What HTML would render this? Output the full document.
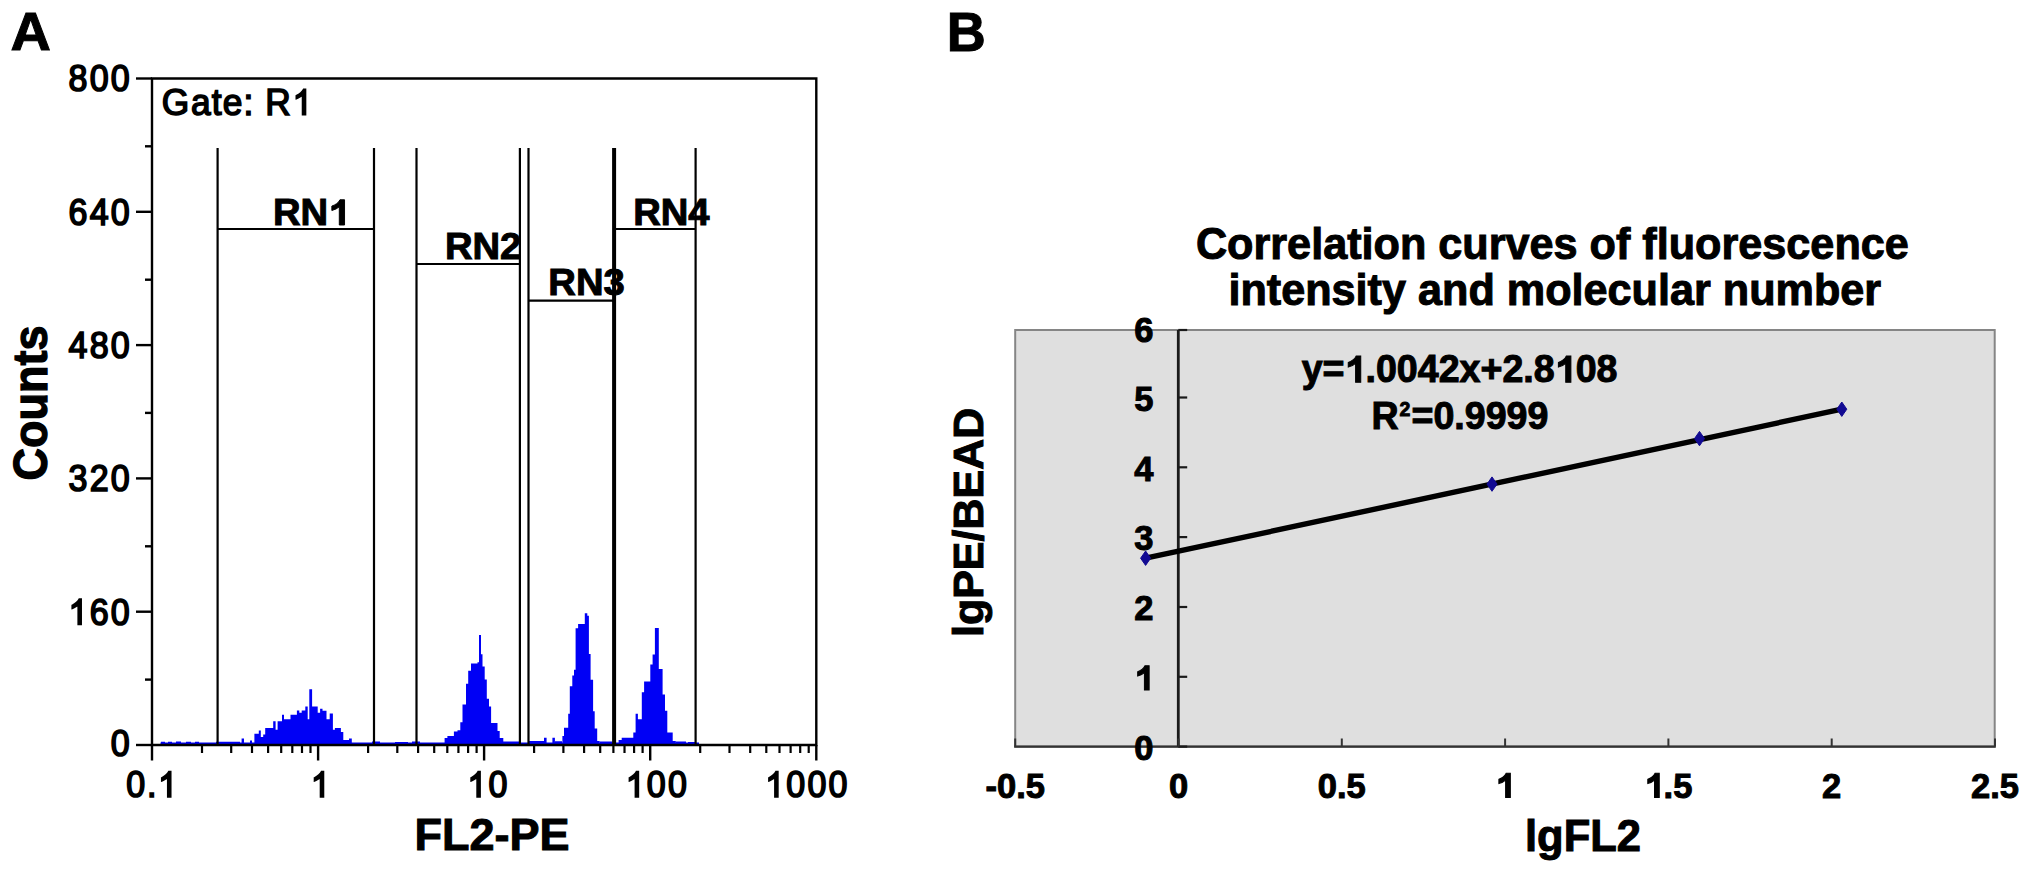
<!DOCTYPE html>
<html><head><meta charset="utf-8"><style>
html,body{margin:0;padding:0;background:#fff;}
svg{display:block;}
text{font-family:"Liberation Sans", sans-serif;font-kerning:none;}
</style></head><body>
<svg width="2031" height="874" viewBox="0 0 2031 874">
<rect width="2031" height="874" fill="#fff"/>
<path d="M241.6 745.0V738.5H244.0V745.0ZM244.0 745.0V743.0H250.0V745.0ZM250.0 745.0V740.5H252.0V745.0ZM252.0 745.0V743.0H254.4V745.0ZM254.4 745.0V733.7H258.8V745.0ZM258.8 745.0V730.5H260.8V745.0ZM260.8 745.0V737.0H263.2V745.0ZM263.2 745.0V734.5H265.2V745.0ZM265.2 745.0V728.0H273.2V745.0ZM273.2 745.0V721.3H275.6V745.0ZM275.6 745.0V729.7H277.6V745.0ZM277.6 745.0V721.3H282.0V745.0ZM282.0 745.0V714.8H284.0V745.0ZM284.0 745.0V719.3H290.5V745.0ZM290.5 745.0V714.8H296.9V745.0ZM296.9 745.0V710.4H299.3V745.0ZM299.3 745.0V712.8H301.7V745.0ZM301.7 745.0V710.4H305.3V745.0ZM305.3 745.0V706.4H307.7V745.0ZM307.7 745.0V719.3H309.3V745.0ZM309.3 745.0V689.2H312.1V745.0ZM312.1 745.0V706.4H317.7V745.0ZM317.7 745.0V712.8H320.1V745.0ZM320.1 745.0V708.8H322.5V745.0ZM322.5 745.0V710.8H326.5V745.0ZM326.5 745.0V719.3H329.7V745.0ZM329.7 745.0V713.6H332.9V745.0ZM332.9 745.0V729.7H334.9V745.0ZM334.9 745.0V728.0H340.9V745.0ZM340.9 745.0V732.0H343.3V745.0ZM343.3 745.0V740.0H349.0V745.0ZM349.0 745.0V738.5H351.8V745.0ZM351.8 745.0V742.5H356.2V745.0ZM444.6 745.0V738.0H447.4V745.0ZM447.4 745.0V735.9H453.9V745.0ZM453.9 745.0V731.6H457.5V745.0ZM457.5 745.0V730.2H460.3V745.0ZM460.3 745.0V722.3H462.5V745.0ZM462.5 745.0V704.4H466.0V745.0ZM466.0 745.0V683.7H468.2V745.0ZM468.2 745.0V670.8H471.0V745.0ZM471.0 745.0V663.6H477.5V745.0ZM477.5 745.0V662.2H479.0V745.0ZM479.0 745.0V635.0H481.0V745.0ZM481.0 745.0V654.3H482.5V745.0ZM482.5 745.0V666.5H484.7V745.0ZM484.7 745.0V679.4H486.8V745.0ZM486.8 745.0V698.7H489.0V745.0ZM489.0 745.0V706.6H491.1V745.0ZM491.1 745.0V723.0H497.5V745.0ZM497.5 745.0V730.9H499.7V745.0ZM499.7 745.0V738.0H503.3V745.0ZM503.3 745.0V741.6H507.6V745.0ZM544.0 745.0V737.8H546.6V745.0ZM552.4 745.0V737.8H554.9V745.0ZM562.4 745.0V736.0H564.0V745.0ZM564.0 745.0V727.8H568.2V745.0ZM568.2 745.0V713.7H569.8V745.0ZM569.8 745.0V686.3H572.3V745.0ZM572.3 745.0V675.5H574.0V745.0ZM574.0 745.0V669.7H575.6V745.0ZM575.6 745.0V628.2H578.1V745.0ZM578.1 745.0V624.1H584.8V745.0ZM584.8 745.0V613.3H587.3V745.0ZM587.3 745.0V615.8H588.9V745.0ZM588.9 745.0V654.0H590.6V745.0ZM590.6 745.0V679.7H593.1V745.0ZM593.1 745.0V711.2H594.7V745.0ZM594.7 745.0V728.6H597.2V745.0ZM597.2 745.0V741.0H599.7V745.0ZM618.6 745.0V740.0H621.7V745.0ZM621.7 745.0V737.8H633.3V745.0ZM633.3 745.0V732.4H635.6V745.0ZM635.6 745.0V713.8H637.9V745.0ZM637.9 745.0V719.2H641.8V745.0ZM641.8 745.0V692.2H644.1V745.0ZM644.1 745.0V681.4H650.3V745.0ZM650.3 745.0V664.4H652.6V745.0ZM652.6 745.0V654.4H654.9V745.0ZM654.9 745.0V628.1H658.8V745.0ZM658.8 745.0V669.0H662.6V745.0ZM662.6 745.0V694.5H665.0V745.0ZM665.0 745.0V710.8H667.3V745.0ZM667.3 745.0V732.4H672.7V745.0ZM672.7 745.0V740.9H675.8V745.0ZM160.5 745.5V742.4H699V745.5ZM161 745.5V741.8H165V745.5ZM168 745.5V741.8H172V745.5ZM176 745.5V741.6H181V745.5ZM186 745.5V741.8H191V745.5ZM195 745.5V741.8H199V745.5ZM216 745.5V741.8H240V745.5ZM372 745.5V741.6H380V745.5ZM395 745.5V741.9H408V745.5ZM412 745.5V741.6H420V745.5ZM507 745.5V741.6H520V745.5ZM528 745.5V741.0H545V745.5ZM555 745.5V741.2H562V745.5ZM600 745.5V741.6H612V745.5ZM676 745.5V741.6H686V745.5ZM688 745.5V742.0H696V745.5Z" fill="#0000f5"/>
<path d="M152.0 78.5H816.3V745.0H152.0Z" fill="none" stroke="#000" stroke-width="2.4"/>
<line x1="136" y1="745.0" x2="152.0" y2="745.0" stroke="#000" stroke-width="2.4"/>
<line x1="145" y1="679.6" x2="152.0" y2="679.6" stroke="#000" stroke-width="2.4"/>
<text transform="translate(120.23 756.20) scale(0.895 0.97)" text-anchor="middle" font-size="38" font-weight="normal" stroke="#000" stroke-width="1.79" fill="#000">0</text>
<line x1="136" y1="611.7" x2="152.0" y2="611.7" stroke="#000" stroke-width="2.4"/>
<line x1="145" y1="546.3" x2="152.0" y2="546.3" stroke="#000" stroke-width="2.4"/>
<path transform="translate(77.97 624.50) scale(0.01661 -0.01730) translate(-569.5 0)" d="M763 0H583V1147Q518 1085 412 1023Q306 961 222 930V1104Q373 1175 486 1276Q599 1377 646 1472H763Z" fill="#000" stroke="#000" stroke-width="96.3"/>
<text transform="translate(99.10 624.50) scale(0.895 0.97)" text-anchor="middle" font-size="38" font-weight="normal" stroke="#000" stroke-width="1.79" fill="#000">6</text>
<text transform="translate(120.23 624.50) scale(0.895 0.97)" text-anchor="middle" font-size="38" font-weight="normal" stroke="#000" stroke-width="1.79" fill="#000">0</text>
<line x1="136" y1="478.4" x2="152.0" y2="478.4" stroke="#000" stroke-width="2.4"/>
<line x1="145" y1="412.9" x2="152.0" y2="412.9" stroke="#000" stroke-width="2.4"/>
<text transform="translate(77.97 491.20) scale(0.895 0.97)" text-anchor="middle" font-size="38" font-weight="normal" stroke="#000" stroke-width="1.79" fill="#000">3</text>
<text transform="translate(99.10 491.20) scale(0.895 0.97)" text-anchor="middle" font-size="38" font-weight="normal" stroke="#000" stroke-width="1.79" fill="#000">2</text>
<text transform="translate(120.23 491.20) scale(0.895 0.97)" text-anchor="middle" font-size="38" font-weight="normal" stroke="#000" stroke-width="1.79" fill="#000">0</text>
<line x1="136" y1="345.1" x2="152.0" y2="345.1" stroke="#000" stroke-width="2.4"/>
<line x1="145" y1="279.7" x2="152.0" y2="279.7" stroke="#000" stroke-width="2.4"/>
<text transform="translate(77.97 357.90) scale(0.895 0.97)" text-anchor="middle" font-size="38" font-weight="normal" stroke="#000" stroke-width="1.79" fill="#000">4</text>
<text transform="translate(99.10 357.90) scale(0.895 0.97)" text-anchor="middle" font-size="38" font-weight="normal" stroke="#000" stroke-width="1.79" fill="#000">8</text>
<text transform="translate(120.23 357.90) scale(0.895 0.97)" text-anchor="middle" font-size="38" font-weight="normal" stroke="#000" stroke-width="1.79" fill="#000">0</text>
<line x1="136" y1="211.8" x2="152.0" y2="211.8" stroke="#000" stroke-width="2.4"/>
<line x1="145" y1="146.3" x2="152.0" y2="146.3" stroke="#000" stroke-width="2.4"/>
<text transform="translate(77.97 224.60) scale(0.895 0.97)" text-anchor="middle" font-size="38" font-weight="normal" stroke="#000" stroke-width="1.79" fill="#000">6</text>
<text transform="translate(99.10 224.60) scale(0.895 0.97)" text-anchor="middle" font-size="38" font-weight="normal" stroke="#000" stroke-width="1.79" fill="#000">4</text>
<text transform="translate(120.23 224.60) scale(0.895 0.97)" text-anchor="middle" font-size="38" font-weight="normal" stroke="#000" stroke-width="1.79" fill="#000">0</text>
<line x1="136" y1="78.5" x2="152.0" y2="78.5" stroke="#000" stroke-width="2.4"/>
<text transform="translate(77.97 91.30) scale(0.895 0.97)" text-anchor="middle" font-size="38" font-weight="normal" stroke="#000" stroke-width="1.79" fill="#000">8</text>
<text transform="translate(99.10 91.30) scale(0.895 0.97)" text-anchor="middle" font-size="38" font-weight="normal" stroke="#000" stroke-width="1.79" fill="#000">0</text>
<text transform="translate(120.23 91.30) scale(0.895 0.97)" text-anchor="middle" font-size="38" font-weight="normal" stroke="#000" stroke-width="1.79" fill="#000">0</text>
<line x1="152.0" y1="745.0" x2="152.0" y2="760.5" stroke="#000" stroke-width="2.4"/>
<text transform="translate(135.83 797.00) scale(0.895 0.97)" text-anchor="middle" font-size="38" font-weight="normal" stroke="#000" stroke-width="1.79" fill="#000">0</text>
<text transform="translate(151.67 797.00) scale(0.895 0.97)" text-anchor="middle" font-size="38" font-weight="normal" stroke="#000" stroke-width="1.79" fill="#000">.</text>
<path transform="translate(167.52 797.00) scale(0.01661 -0.01730) translate(-569.5 0)" d="M763 0H583V1147Q518 1085 412 1023Q306 961 222 930V1104Q373 1175 486 1276Q599 1377 646 1472H763Z" fill="#000" stroke="#000" stroke-width="96.3"/>
<line x1="202.0" y1="745.0" x2="202.0" y2="753" stroke="#000" stroke-width="2.2"/>
<line x1="231.2" y1="745.0" x2="231.2" y2="753" stroke="#000" stroke-width="2.2"/>
<line x1="252.0" y1="745.0" x2="252.0" y2="753" stroke="#000" stroke-width="2.2"/>
<line x1="268.1" y1="745.0" x2="268.1" y2="753" stroke="#000" stroke-width="2.2"/>
<line x1="281.2" y1="745.0" x2="281.2" y2="753" stroke="#000" stroke-width="2.2"/>
<line x1="292.3" y1="745.0" x2="292.3" y2="753" stroke="#000" stroke-width="2.2"/>
<line x1="302.0" y1="745.0" x2="302.0" y2="753" stroke="#000" stroke-width="2.2"/>
<line x1="310.5" y1="745.0" x2="310.5" y2="753" stroke="#000" stroke-width="2.2"/>
<line x1="318.1" y1="745.0" x2="318.1" y2="760.5" stroke="#000" stroke-width="2.4"/>
<path transform="translate(320.27 797.00) scale(0.01661 -0.01730) translate(-569.5 0)" d="M763 0H583V1147Q518 1085 412 1023Q306 961 222 930V1104Q373 1175 486 1276Q599 1377 646 1472H763Z" fill="#000" stroke="#000" stroke-width="96.3"/>
<line x1="368.1" y1="745.0" x2="368.1" y2="753" stroke="#000" stroke-width="2.2"/>
<line x1="397.3" y1="745.0" x2="397.3" y2="753" stroke="#000" stroke-width="2.2"/>
<line x1="418.1" y1="745.0" x2="418.1" y2="753" stroke="#000" stroke-width="2.2"/>
<line x1="434.2" y1="745.0" x2="434.2" y2="753" stroke="#000" stroke-width="2.2"/>
<line x1="447.3" y1="745.0" x2="447.3" y2="753" stroke="#000" stroke-width="2.2"/>
<line x1="458.4" y1="745.0" x2="458.4" y2="753" stroke="#000" stroke-width="2.2"/>
<line x1="468.1" y1="745.0" x2="468.1" y2="753" stroke="#000" stroke-width="2.2"/>
<line x1="476.6" y1="745.0" x2="476.6" y2="753" stroke="#000" stroke-width="2.2"/>
<line x1="484.1" y1="745.0" x2="484.1" y2="760.5" stroke="#000" stroke-width="2.4"/>
<path transform="translate(476.87 797.00) scale(0.01661 -0.01730) translate(-569.5 0)" d="M763 0H583V1147Q518 1085 412 1023Q306 961 222 930V1104Q373 1175 486 1276Q599 1377 646 1472H763Z" fill="#000" stroke="#000" stroke-width="96.3"/>
<text transform="translate(498.00 797.00) scale(0.895 0.97)" text-anchor="middle" font-size="38" font-weight="normal" stroke="#000" stroke-width="1.79" fill="#000">0</text>
<line x1="534.1" y1="745.0" x2="534.1" y2="753" stroke="#000" stroke-width="2.2"/>
<line x1="563.4" y1="745.0" x2="563.4" y2="753" stroke="#000" stroke-width="2.2"/>
<line x1="584.1" y1="745.0" x2="584.1" y2="753" stroke="#000" stroke-width="2.2"/>
<line x1="600.2" y1="745.0" x2="600.2" y2="753" stroke="#000" stroke-width="2.2"/>
<line x1="613.4" y1="745.0" x2="613.4" y2="753" stroke="#000" stroke-width="2.2"/>
<line x1="624.5" y1="745.0" x2="624.5" y2="753" stroke="#000" stroke-width="2.2"/>
<line x1="634.1" y1="745.0" x2="634.1" y2="753" stroke="#000" stroke-width="2.2"/>
<line x1="642.6" y1="745.0" x2="642.6" y2="753" stroke="#000" stroke-width="2.2"/>
<line x1="650.2" y1="745.0" x2="650.2" y2="760.5" stroke="#000" stroke-width="2.4"/>
<path transform="translate(635.17 797.00) scale(0.01661 -0.01730) translate(-569.5 0)" d="M763 0H583V1147Q518 1085 412 1023Q306 961 222 930V1104Q373 1175 486 1276Q599 1377 646 1472H763Z" fill="#000" stroke="#000" stroke-width="96.3"/>
<text transform="translate(656.30 797.00) scale(0.895 0.97)" text-anchor="middle" font-size="38" font-weight="normal" stroke="#000" stroke-width="1.79" fill="#000">0</text>
<text transform="translate(677.44 797.00) scale(0.895 0.97)" text-anchor="middle" font-size="38" font-weight="normal" stroke="#000" stroke-width="1.79" fill="#000">0</text>
<line x1="700.2" y1="745.0" x2="700.2" y2="753" stroke="#000" stroke-width="2.2"/>
<line x1="729.5" y1="745.0" x2="729.5" y2="753" stroke="#000" stroke-width="2.2"/>
<line x1="750.2" y1="745.0" x2="750.2" y2="753" stroke="#000" stroke-width="2.2"/>
<line x1="766.3" y1="745.0" x2="766.3" y2="753" stroke="#000" stroke-width="2.2"/>
<line x1="779.5" y1="745.0" x2="779.5" y2="753" stroke="#000" stroke-width="2.2"/>
<line x1="790.6" y1="745.0" x2="790.6" y2="753" stroke="#000" stroke-width="2.2"/>
<line x1="800.2" y1="745.0" x2="800.2" y2="753" stroke="#000" stroke-width="2.2"/>
<line x1="808.7" y1="745.0" x2="808.7" y2="753" stroke="#000" stroke-width="2.2"/>
<line x1="816.3" y1="745.0" x2="816.3" y2="760.5" stroke="#000" stroke-width="2.4"/>
<path transform="translate(774.67 797.00) scale(0.01661 -0.01730) translate(-569.5 0)" d="M763 0H583V1147Q518 1085 412 1023Q306 961 222 930V1104Q373 1175 486 1276Q599 1377 646 1472H763Z" fill="#000" stroke="#000" stroke-width="96.3"/>
<text transform="translate(795.80 797.00) scale(0.895 0.97)" text-anchor="middle" font-size="38" font-weight="normal" stroke="#000" stroke-width="1.79" fill="#000">0</text>
<text transform="translate(816.94 797.00) scale(0.895 0.97)" text-anchor="middle" font-size="38" font-weight="normal" stroke="#000" stroke-width="1.79" fill="#000">0</text>
<text transform="translate(838.07 797.00) scale(0.895 0.97)" text-anchor="middle" font-size="38" font-weight="normal" stroke="#000" stroke-width="1.79" fill="#000">0</text>
<path d="M217.6 148V745.0M374 148V745.0M217.6 229H374" fill="none" stroke="#000" stroke-width="2.2"/>
<path d="M416.5 148V745.0M519.9 148V745.0M416.5 264H519.9" fill="none" stroke="#000" stroke-width="2.2"/>
<path d="M528.5 148V745.0M613.2 148V745.0M528.5 300.7H613.2" fill="none" stroke="#000" stroke-width="2.2"/>
<path d="M615.0 148V745.0M695.6 148V745.0M615.0 229H695.6" fill="none" stroke="#000" stroke-width="2.2"/>
<text transform="translate(175.52 114.80) scale(0.93 0.97)" text-anchor="middle" font-size="38" font-weight="normal" stroke="#000" stroke-width="1.61" fill="#000">G</text>
<text transform="translate(200.86 114.80) scale(0.93 0.97)" text-anchor="middle" font-size="38" font-weight="normal" stroke="#000" stroke-width="1.61" fill="#000">a</text>
<text transform="translate(216.71 114.80) scale(0.93 0.97)" text-anchor="middle" font-size="38" font-weight="normal" stroke="#000" stroke-width="1.61" fill="#000">t</text>
<text transform="translate(232.55 114.80) scale(0.93 0.97)" text-anchor="middle" font-size="38" font-weight="normal" stroke="#000" stroke-width="1.61" fill="#000">e</text>
<text transform="translate(248.40 114.80) scale(0.93 0.97)" text-anchor="middle" font-size="38" font-weight="normal" stroke="#000" stroke-width="1.61" fill="#000">:</text>
<text transform="translate(277.96 114.80) scale(0.93 0.97)" text-anchor="middle" font-size="38" font-weight="normal" stroke="#000" stroke-width="1.61" fill="#000">R</text>
<path transform="translate(302.25 114.80) scale(0.01726 -0.01730) translate(-569.5 0)" d="M763 0H583V1147Q518 1085 412 1023Q306 961 222 930V1104Q373 1175 486 1276Q599 1377 646 1472H763Z" fill="#000" stroke="#000" stroke-width="86.9"/>
<text transform="translate(272.94 225.00) scale(1 0.96)" font-size="38.2" font-weight="bold" stroke="#000" stroke-width="1.0" fill="#000">RN</text>
<path transform="translate(328.12 225.00) scale(0.01865 -0.01721)" d="M880 0H600V1055Q446 911 200 843V1100Q330 1143 458 1242Q586 1341 634 1466H880Z" fill="#000" stroke="#000" stroke-width="53.6"/>
<text transform="translate(444.94 259.00) scale(1 0.96)" font-size="38.2" font-weight="bold" stroke="#000" stroke-width="1.0" fill="#000">RN2</text>
<text transform="translate(548.34 294.50) scale(1 0.96)" font-size="38.2" font-weight="bold" stroke="#000" stroke-width="1.0" fill="#000">RN3</text>
<text transform="translate(633.14 225.00) scale(1 0.96)" font-size="38.2" font-weight="bold" stroke="#000" stroke-width="1.0" fill="#000">RN4</text>
<text transform="translate(414.49 850.00) scale(1 1.0)" font-size="45" font-weight="bold" stroke="#000" stroke-width="1.0" fill="#000">FL2-PE</text>
<text transform="translate(47.2 403) rotate(-90) scale(1 1.06)" font-size="45" font-weight="bold" text-anchor="middle" stroke="#000" stroke-width="1.2">Counts</text>
<text transform="translate(10.51 50.40) scale(1 0.97)" font-size="56" font-weight="bold" stroke="#000" stroke-width="1.0" fill="#000">A</text>
<rect x="1015.2" y="330.0" width="979.5" height="416.6" fill="#dfdfdf" stroke="#858585" stroke-width="2"/>
<line x1="1014.2" y1="746.6" x2="1995.7" y2="746.6" stroke="#333" stroke-width="2.4"/>
<line x1="1178.3" y1="330.0" x2="1178.3" y2="746.6" stroke="#1a1a1a" stroke-width="2.8"/>
<line x1="1178.3" y1="746.6" x2="1187.2" y2="746.6" stroke="#1a1a1a" stroke-width="2.2"/>
<text transform="translate(1134.31 759.80) scale(1 1.02)" font-size="34.5" font-weight="bold" stroke="#000" stroke-width="1.0" fill="#000">0</text>
<line x1="1178.3" y1="676.8" x2="1187.2" y2="676.8" stroke="#1a1a1a" stroke-width="2.2"/>
<path transform="translate(1134.31 689.98) scale(0.01685 -0.01651)" d="M880 0H600V1055Q446 911 200 843V1100Q330 1143 458 1242Q586 1341 634 1466H880Z" fill="#000" stroke="#000" stroke-width="59.4"/>
<line x1="1178.3" y1="607.0" x2="1187.2" y2="607.0" stroke="#1a1a1a" stroke-width="2.2"/>
<text transform="translate(1134.31 620.16) scale(1 1.02)" font-size="34.5" font-weight="bold" stroke="#000" stroke-width="1.0" fill="#000">2</text>
<line x1="1178.3" y1="537.1" x2="1187.2" y2="537.1" stroke="#1a1a1a" stroke-width="2.2"/>
<text transform="translate(1134.31 550.34) scale(1 1.02)" font-size="34.5" font-weight="bold" stroke="#000" stroke-width="1.0" fill="#000">3</text>
<line x1="1178.3" y1="467.3" x2="1187.2" y2="467.3" stroke="#1a1a1a" stroke-width="2.2"/>
<text transform="translate(1134.31 480.52) scale(1 1.02)" font-size="34.5" font-weight="bold" stroke="#000" stroke-width="1.0" fill="#000">4</text>
<line x1="1178.3" y1="397.5" x2="1187.2" y2="397.5" stroke="#1a1a1a" stroke-width="2.2"/>
<text transform="translate(1134.31 410.70) scale(1 1.02)" font-size="34.5" font-weight="bold" stroke="#000" stroke-width="1.0" fill="#000">5</text>
<line x1="1178.3" y1="330.0" x2="1187.2" y2="330.0" stroke="#1a1a1a" stroke-width="2.2"/>
<text transform="translate(1134.31 342.30) scale(1 1.02)" font-size="34.5" font-weight="bold" stroke="#000" stroke-width="1.0" fill="#000">6</text>
<line x1="1015.2" y1="746.6" x2="1015.2" y2="738.5" stroke="#333" stroke-width="2"/>
<text transform="translate(985.48 797.50) scale(1 1.02)" font-size="34.5" font-weight="bold" stroke="#000" stroke-width="1.0" fill="#000">-0.5</text>
<line x1="1178.5" y1="746.6" x2="1178.5" y2="738.5" stroke="#333" stroke-width="2"/>
<text transform="translate(1168.91 797.50) scale(1 1.02)" font-size="34.5" font-weight="bold" stroke="#000" stroke-width="1.0" fill="#000">0</text>
<line x1="1341.8" y1="746.6" x2="1341.8" y2="738.5" stroke="#333" stroke-width="2"/>
<text transform="translate(1317.82 797.50) scale(1 1.02)" font-size="34.5" font-weight="bold" stroke="#000" stroke-width="1.0" fill="#000">0.5</text>
<line x1="1505.1" y1="746.6" x2="1505.1" y2="738.5" stroke="#333" stroke-width="2"/>
<path transform="translate(1495.51 797.50) scale(0.01685 -0.01651)" d="M880 0H600V1055Q446 911 200 843V1100Q330 1143 458 1242Q586 1341 634 1466H880Z" fill="#000" stroke="#000" stroke-width="59.4"/>
<line x1="1668.4" y1="746.6" x2="1668.4" y2="738.5" stroke="#333" stroke-width="2"/>
<path transform="translate(1644.42 797.50) scale(0.01685 -0.01651)" d="M880 0H600V1055Q446 911 200 843V1100Q330 1143 458 1242Q586 1341 634 1466H880Z" fill="#000" stroke="#000" stroke-width="59.4"/>
<text transform="translate(1663.61 797.50) scale(1 1.02)" font-size="34.5" font-weight="bold" stroke="#000" stroke-width="1.0" fill="#000">.5</text>
<line x1="1831.7" y1="746.6" x2="1831.7" y2="738.5" stroke="#333" stroke-width="2"/>
<text transform="translate(1822.11 797.50) scale(1 1.02)" font-size="34.5" font-weight="bold" stroke="#000" stroke-width="1.0" fill="#000">2</text>
<line x1="1995.0" y1="746.6" x2="1995.0" y2="738.5" stroke="#333" stroke-width="2"/>
<text transform="translate(1971.02 797.50) scale(1 1.02)" font-size="34.5" font-weight="bold" stroke="#000" stroke-width="1.0" fill="#000">2.5</text>
<line x1="1145.6" y1="558.2" x2="1841.8" y2="409.2" stroke="#000" stroke-width="5.4"/>
<path d="M1145.6 551.0L1150.6 558.2L1145.6 565.4000000000001L1140.6 558.2Z" fill="#120a92" stroke="#120a92" stroke-width="1" stroke-linejoin="round"/>
<path d="M1492 476.90000000000003L1497.0 484.1L1492 491.3L1487.0 484.1Z" fill="#120a92" stroke="#120a92" stroke-width="1" stroke-linejoin="round"/>
<path d="M1699.5 431.40000000000003L1704.5 438.6L1699.5 445.8L1694.5 438.6Z" fill="#120a92" stroke="#120a92" stroke-width="1" stroke-linejoin="round"/>
<path d="M1841.8 402.0L1846.8 409.2L1841.8 416.4L1836.8 409.2Z" fill="#120a92" stroke="#120a92" stroke-width="1" stroke-linejoin="round"/>
<text transform="translate(1195.93 258.60) scale(1 1.02)" font-size="43.2" font-weight="bold" stroke="#000" stroke-width="1.0" fill="#000">Correlation curves of fluorescence</text>
<text transform="translate(1228.38 304.60) scale(1 1.02)" font-size="43.2" font-weight="bold" stroke="#000" stroke-width="1.0" fill="#000">intensity and molecular number</text>
<text transform="translate(1301.71 382.30) scale(1 1.02)" font-size="37.6" font-weight="bold" stroke="#000" stroke-width="1.0" fill="#000">y=</text>
<path transform="translate(1344.58 382.30) scale(0.01836 -0.01800)" d="M880 0H600V1055Q446 911 200 843V1100Q330 1143 458 1242Q586 1341 634 1466H880Z" fill="#000" stroke="#000" stroke-width="54.5"/>
<text transform="translate(1365.49 382.30) scale(1 1.02)" font-size="37.6" font-weight="bold" stroke="#000" stroke-width="1.0" fill="#000">.0042x+2.8</text>
<path transform="translate(1554.72 382.30) scale(0.01836 -0.01800)" d="M880 0H600V1055Q446 911 200 843V1100Q330 1143 458 1242Q586 1341 634 1466H880Z" fill="#000" stroke="#000" stroke-width="54.5"/>
<text transform="translate(1575.63 382.30) scale(1 1.02)" font-size="37.6" font-weight="bold" stroke="#000" stroke-width="1.0" fill="#000">08</text>
<text transform="translate(1371.48 428.70) scale(1 1.02)" font-size="37.6" font-weight="bold" stroke="#000" stroke-width="1.0" fill="#000">R</text>
<text transform="translate(1399.60 416.00) scale(1 1.0)" font-size="19.5" font-weight="bold" stroke="#000" stroke-width="0.9" fill="#000">2</text>
<text transform="translate(1411.50 428.70) scale(1 1.02)" font-size="37.6" font-weight="bold" stroke="#000" stroke-width="1.0" fill="#000">=0.9999</text>
<text transform="translate(1583 850.6) scale(1 1.02)" font-size="43.5" font-weight="bold" text-anchor="middle" stroke="#000" stroke-width="1">lgFL2</text>
<text transform="translate(982.8 522.4) rotate(-90) scale(1 0.97)" font-size="43" font-weight="bold" text-anchor="middle" stroke="#000" stroke-width="1">lgPE/BEAD</text>
<text transform="translate(946.79 50.50) scale(1 1.03)" font-size="54" font-weight="bold" stroke="#000" stroke-width="1.0" fill="#000">B</text>
</svg>
</body></html>
